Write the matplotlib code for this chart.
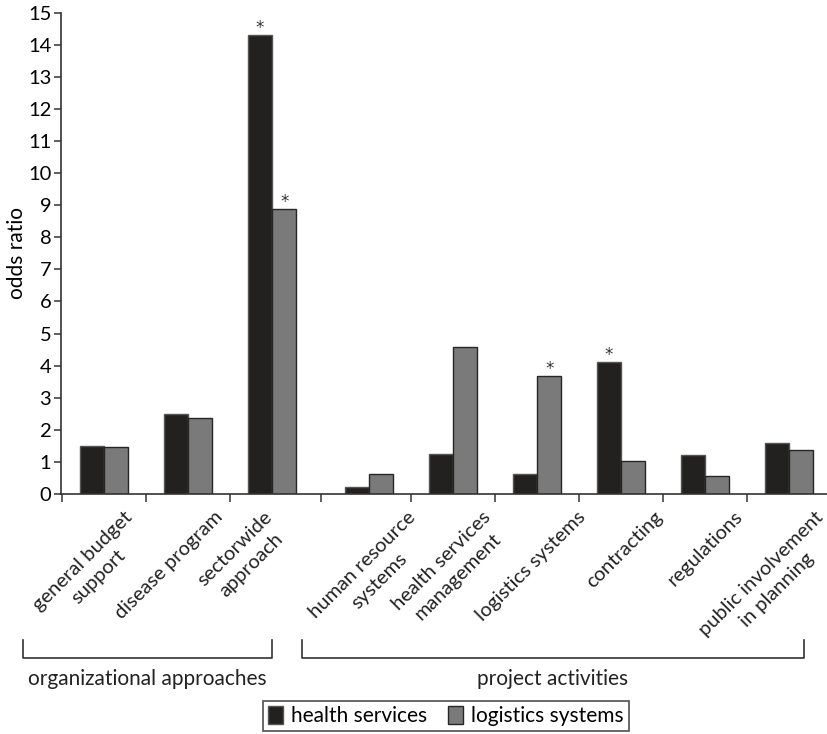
import matplotlib.pyplot as plt
import numpy as np
from matplotlib.lines import Line2D
from matplotlib.patches import Patch

plt.rcParams["font.family"] = ["Lato", "DejaVu Sans"]

categories = [
    "general budget\nsupport",
    "disease program",
    "sectorwide\napproach",
    "human resource\nsystems",
    "health services\nmanagement",
    "logistics systems",
    "contracting",
    "regulations",
    "public involvement\nin planning",
]
health_services = [1.50, 2.48, 14.31, 0.23, 1.25, 0.61, 4.12, 1.23, 1.60]
logistics_systems = [1.45, 2.38, 8.88, 0.61, 4.58, 3.69, 1.02, 0.57, 1.37]
health_sig = [False, False, True, False, False, False, True, False, False]
logistics_sig = [False, False, True, False, False, True, False, False, False]
group_names = ["organizational approaches", "project activities"]
group_sizes = [3, 6]

W, H = 828, 734
BLACK = "#222120"
GRAY = "#7a7a7a"
LABEL_FS = 14.5

fig = plt.figure(figsize=(W / 100, H / 100), dpi=100)
ax = fig.add_axes([61 / W, 1 - 494 / H, (W - 61) / W, (494 - 12.7) / H])

# category centres, with a small extra gap between the two groups
gap = 0.155
x = np.arange(len(categories)) + gap * (np.arange(len(categories)) >= group_sizes[0])
bw = 0.29

ax.bar(x - bw, health_services, bw, align="edge", color=BLACK,
       edgecolor="#555555", linewidth=1.0)
ax.bar(x, logistics_systems, bw, align="edge", color=GRAY,
       edgecolor="#262626", linewidth=1.0)

for xs, vals, sig in [(x - bw / 2, health_services, health_sig),
                      (x + bw / 2, logistics_systems, logistics_sig)]:
    for xi, v, s in zip(xs, vals, sig):
        if s:
            ax.annotate("*", (xi, v), xytext=(0, 2), textcoords="offset pixels",
                        ha="center", va="baseline", fontsize=12, color="#333333",
                        family="DejaVu Sans")

ax.set_ylim(0, 15)
ax.set_xlim(-0.512, -0.512 + (W - 61) / 84)
ax.set_yticks(range(0, 16))
ax.tick_params(axis="y", direction="out", length=5, width=1.1, color="#333333",
               labelsize=14.5, pad=2)
ax.set_ylabel("odds ratio", fontsize=15, labelpad=1)

# x ticks sit on the category boundaries, labels are drawn separately
bounds = np.concatenate([[x[0] - 0.5], (x[:-1] + x[1:]) / 2])
ax.set_xticks(bounds)
ax.set_xticklabels([])
ax.tick_params(axis="x", direction="out", length=6, width=1.1, color="#333333")

for sp in ["top", "right"]:
    ax.spines[sp].set_visible(False)
for sp in ["left", "bottom"]:
    ax.spines[sp].set_color("#333333")
    ax.spines[sp].set_linewidth(1.2)

# rotated category labels: each line placed on its own, lines centred,
# block anchored by its top-right corner (offset in pixels from bar centre)
renderer = fig.canvas.get_renderer()
label_dx = [17, 24, -11, 36, 27, 38, 31, 27, 23]
label_dy = -12
lh = 23.0
c = s = np.sqrt(0.5)
for xi, lab, dx in zip(x, categories, label_dx):
    lines = lab.split("\n")
    widths = []
    for line in lines:
        t = fig.text(0, 0, line, fontsize=LABEL_FS)
        widths.append(t.get_window_extent(renderer).width)
        t.remove()
    wmax = max(widths)
    for i, line in enumerate(lines):
        ux, uy = -wmax / 2, -(i + 0.5) * lh
        rx, ry = ux * c - uy * s, ux * s + uy * c
        ax.annotate(line, (xi, 0), xytext=(dx + rx, label_dy + ry),
                    textcoords="offset pixels", rotation=45, rotation_mode="anchor",
                    ha="center", va="center", fontsize=LABEL_FS, color="#222222",
                    annotation_clip=False)

# group brackets below the axis
brackets = [(23.3, 272.3), (301.7, 803.7)]
y_top, y_bot = 640, 657.7
for (x0, x1), name in zip(brackets, group_names):
    fx = [x0 / W, x0 / W, x1 / W, x1 / W]
    fy = [1 - y_top / H, 1 - y_bot / H, 1 - y_bot / H, 1 - y_top / H]
    fig.add_artist(Line2D(fx, fy, color="#333333", linewidth=1.2))
    fig.text((x0 + x1) / 2 / W, 1 - 679 / H, name, ha="center", va="center",
             fontsize=15, color="#222222")

handles = [Patch(facecolor=BLACK, edgecolor="#555555", label="health services"),
           Patch(facecolor=GRAY, edgecolor="#262626", label="logistics systems")]
leg = fig.legend(handles=handles, loc="center", bbox_to_anchor=(446 / W, 1 - 716 / H),
                 ncol=2, fontsize=15, frameon=True, fancybox=False, edgecolor="#222222",
                 handlelength=0.7, handleheight=1.0, handletextpad=0.4,
                 columnspacing=1.0, borderpad=0.25, borderaxespad=0)
leg.get_frame().set_linewidth(1.2)

fig.savefig("out.png", dpi=100)
